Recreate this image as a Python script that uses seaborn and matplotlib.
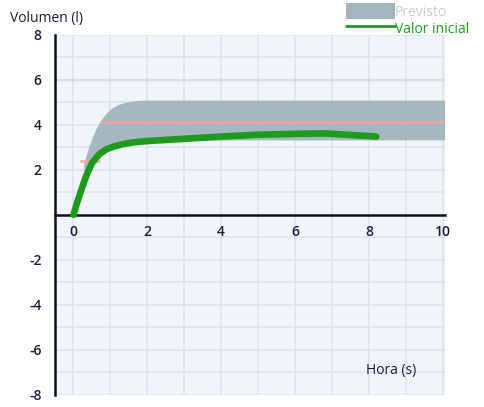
# Volumen vs hora: banda prevista + valor inicial

import numpy as np
import pandas as pd
import matplotlib
matplotlib.use("Agg")
import matplotlib.pyplot as plt
import seaborn as sns
from matplotlib.ticker import MultipleLocator
from matplotlib.patches import Patch
from matplotlib.lines import Line2D

# ----------------------------------------------------------
# data
# ----------------------------------------------------------

# predicted band (Previsto)
band_x = [0.28, 0.4, 0.5, 0.6, 0.7, 0.85, 1.0, 1.2, 1.4, 1.7, 2.0, 3.0, 5.0, 7.0, 10.05]
band_low = [1.75, 2.15, 2.4, 2.65, 2.8, 2.95, 3.05, 3.15, 3.2, 3.27, 3.3, 3.32, 3.33, 3.33, 3.33]
band_high = [2.3, 2.95, 3.4, 3.8, 4.1, 4.45, 4.7, 4.9, 5.0, 5.08, 5.1, 5.1, 5.1, 5.1, 5.1]

# measured curve (Valor inicial)
hora = [0.0, 0.1, 0.24, 0.35, 0.5, 0.7, 0.9, 1.06, 1.3, 1.6, 2.0, 2.5, 3.0, 4.0, 5.0, 6.0, 6.8, 7.5, 8.2]
volumen = [0.0, 0.55, 1.24, 1.75, 2.3, 2.7, 2.92, 3.02, 3.13, 3.22, 3.28, 3.33, 3.38, 3.48, 3.56, 3.6, 3.62, 3.55, 3.48]

# reference lines (pink)
ref_y = [6.0, 4.13, 2.4]
ref_x0 = [-0.5, 0.75, 0.2]
ref_x1 = [10.05, 10.05, 0.7]
ref_alpha = [0.12, 0.8, 0.8]

x_ticks = [0, 2, 4, 6, 8, 10]
y_ticks = [-8, -6, -4, -2, 2, 4, 6, 8]

df = pd.DataFrame({"hora": hora, "volumen": volumen})

# ----------------------------------------------------------
# style
# ----------------------------------------------------------

sns.set_style("white", {"axes.facecolor": "#f0f5f9"})
plt.rcParams["font.family"] = ["Open Sans", "DejaVu Sans"]
plt.rcParams["axes.unicode_minus"] = False

fig = plt.figure(figsize=(4.84, 4.07), dpi=100)
ax = fig.add_axes([0.1136, 0.0295, 0.805, 0.885])

ax.set_xlim(-0.5, 10.05)
ax.set_ylim(-8, 8)

# grid every unit
ax.xaxis.set_minor_locator(MultipleLocator(1))
ax.yaxis.set_minor_locator(MultipleLocator(1))
ax.grid(which="both", color="#dce3eb", linewidth=1.1, zorder=0)
ax.set_axisbelow(True)

# band
ax.fill_between(band_x, band_low, band_high, color="#a3b4bd", alpha=0.95,
                linewidth=0, zorder=1)

# pink ref lines
for y, a, b, al in zip(ref_y, ref_x0, ref_x1, ref_alpha):
    ax.plot([a, b], [y, y], color="#f4a6a0", linewidth=2.2, alpha=al, zorder=2)

# green curve
sns.lineplot(data=df, x="hora", y="volumen", ax=ax, color="#1f9a1f",
             linewidth=4.8, zorder=3, solid_capstyle="round")
ax.set_xlabel("")
ax.set_ylabel("")

# spines: left edge + x axis at y=0
for s in ["top", "right"]:
    ax.spines[s].set_visible(False)
ax.spines["bottom"].set_position(("data", 0))
ax.spines["bottom"].set_bounds(-0.5, 10.05)
ax.spines["left"].set_linewidth(1.8)
ax.spines["bottom"].set_linewidth(1.8)
ax.spines["left"].set_color("#111111")
ax.spines["bottom"].set_color("#111111")

ax.set_xticks(x_ticks)
ax.set_yticks(y_ticks)
ax.tick_params(which="major", direction="out", length=6, width=1.6,
               colors="#111111", labelsize=10, labelcolor="#1c1c3a")
ax.tick_params(which="minor", direction="out", length=6, width=1.6,
               colors="#111111")
ax.tick_params(axis="x", which="both", pad=1)
for lab in ax.get_xticklabels() + ax.get_yticklabels():
    lab.set_fontweight("semibold")

# axis titles
fig.text(0.02, 0.955, "Volumen (l)", fontsize=10, color="#1c1c3a", ha="left", va="center")
ax.text(8.6, -6.9, "Hora (s)", fontsize=10, color="#1c1c3a", ha="center", va="center")

# legend
handles = [Patch(facecolor="#a3b4bd", edgecolor="none", label="Previsto"),
           Line2D([0], [0], color="#1f9a1f", linewidth=2, label="Valor inicial")]
leg = fig.legend(handles=handles, loc="upper left", bbox_to_anchor=(0.712, 0.995),
                 frameon=False, fontsize=10, handlelength=3.5, handleheight=1.3,
                 handletextpad=0.0, borderaxespad=0.0, borderpad=0.1,
                 labelspacing=0.05)
leg.get_texts()[0].set_color("#c8ced4")
leg.get_texts()[1].set_color("#1f9a1f")

fig.savefig("out.png", dpi=100)
